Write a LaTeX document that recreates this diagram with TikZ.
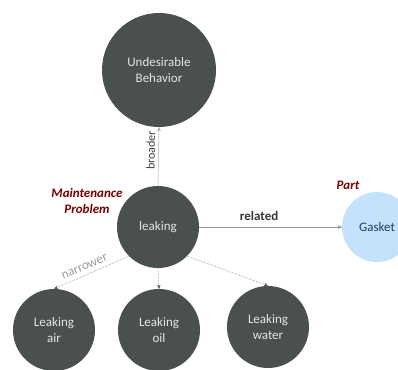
\documentclass[tikz,border=0pt]{standalone}
\usepackage{fontspec}
\setmainfont{Carlito}
\usetikzlibrary{arrows}
\definecolor{nodegray}{HTML}{4A4F4F}
\definecolor{nodetext}{HTML}{E6E6E6}
\definecolor{partblue}{HTML}{C4E2FC}
\definecolor{partdark}{HTML}{1F3F5F}
\definecolor{classred}{HTML}{7A0000}
\begin{document}
\begin{tikzpicture}[x=1pt,y=-1pt,font=\fontsize{13}{16}\selectfont,
  concept/.style={shape=circle,fill=nodegray,text=nodetext,inner sep=0pt,align=center},
  classlabel/.style={text=classred,font=\fontsize{13}{16}\selectfont\bfseries\itshape,align=center},
  link/.style={->,>=stealth',draw=gray!80,line width=0.5pt},
  narrowlink/.style={->,>=stealth',draw=black!60,densely dotted,line width=0.5pt}]
\useasboundingbox (0,0) rectangle (398,369);
\node(ub)[concept,minimum size=114pt] at (159,70){Undesirable\\ Behavior};
\node(leak)[concept,minimum size=82pt] at (158,227){leaking};
\node(gasket)[shape=circle,fill=partblue,text=partdark,inner sep=0pt,minimum size=70pt] at (377,227){Gasket};
\node(air)[concept,minimum size=82pt] at (54,330){Leaking\\ air};
\node(oil)[concept,minimum size=82pt] at (159,330){Leaking\\ oil};
\node(water)[concept,minimum size=82pt] at (268,327){Leaking\\ water};
\node(mp)[classlabel] at (87,201){Maintenance\\ Problem};
\node(part)[classlabel] at (348,185){Part};
\draw[link,draw=gray!60] (leak.north)--(ub.south) node[pos=0.6,sloped,above,text=black!75,font=\fontsize{12}{14}\selectfont]{broader};
\draw[link] (leak.east)--(gasket.west) node[pos=0.42,above=3pt,text=black!80,font=\fontsize{13}{14}\selectfont\bfseries]{related};
\draw[narrowlink] (leak.south west)--(air.north) node[pos=0.55,sloped,above=1pt,text=gray!80]{narrower};
\draw[narrowlink] (leak.south)--(oil.north);
\draw[narrowlink] (leak.south east)--(water.north);
\end{tikzpicture}
\end{document}
